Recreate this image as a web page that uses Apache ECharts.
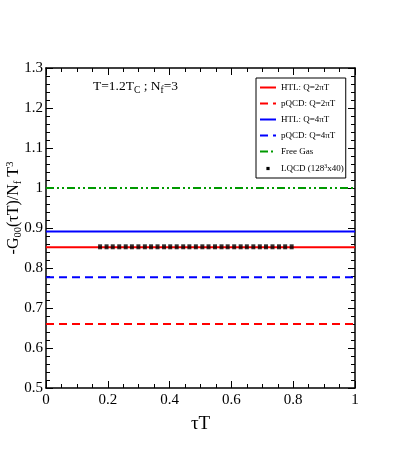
<!DOCTYPE html>
<html>
<head>
<meta charset="utf-8">
<script src="https://cdn.jsdelivr.net/npm/echarts@6/dist/echarts.min.js"></script>
<style>
  html, body { margin: 0; padding: 0; background: #fff; }
  #chart { width: 399px; height: 457px; }
</style>
</head>
<body>
<div id="chart"></div>
<script>
'use strict';

// tau*T end points for the flat curves
var tauEnds = [0, 1];
var htl2 = [0.852, 0.852];
var pqcd2 = [0.66, 0.66];
var htl4 = [0.891, 0.891];
var pqcd4 = [0.777, 0.777];
var freeGas = [1.0, 1.0];

// lattice points
var lqcdTau = [0.175, 0.196, 0.216, 0.237, 0.258, 0.278, 0.299, 0.320, 0.340, 0.361,
    0.382, 0.402, 0.423, 0.444, 0.464, 0.485, 0.506, 0.526, 0.547, 0.568,
    0.588, 0.609, 0.630, 0.650, 0.671, 0.692, 0.712, 0.733, 0.754, 0.774, 0.795];
var lqcdG = [0.853, 0.853, 0.853, 0.853, 0.853, 0.853, 0.853, 0.853, 0.853, 0.853,
    0.853, 0.853, 0.853, 0.853, 0.853, 0.853, 0.853, 0.853, 0.853, 0.853,
    0.853, 0.853, 0.853, 0.853, 0.853, 0.853, 0.853, 0.853, 0.853, 0.853, 0.853];

var legendNames = ['HTL: Q=2\u03c0T', 'pQCD: Q=2\u03c0T', 'HTL: Q=4\u03c0T', 'pQCD: Q=4\u03c0T', 'Free Gas', 'LQCD'];

var serif = 'Liberation Serif';

function pairs(xs, ys) {
    var out = [];
    for (var i = 0; i < xs.length; i++) {
        out.push([xs[i], ys[i]]);
    }
    return out;
}

function lineSeries(name, ys, color, type) {
    return {
        name: name,
        type: 'line',
        data: pairs(tauEnds, ys),
        showSymbol: false,
        symbol: 'none',
        silent: true,
        lineStyle: { color: color, width: 2, type: type },
        itemStyle: { color: color },
        z: 2
    };
}

function xAxisOf(pos) {
    return {
        type: 'value',
        position: pos,
        min: 0,
        max: 1,
        interval: 0.2,
        axisLine: { onZero: false, lineStyle: { color: '#000', width: 1.5 } },
        axisTick: { inside: true, length: 7, lineStyle: { color: '#000', width: 1 } },
        minorTick: { show: true, splitNumber: 4, length: 4, lineStyle: { color: '#000', width: 1 } },
        axisLabel: {
            show: pos === 'bottom',
            color: '#000',
            fontFamily: serif,
            fontSize: 15,
            margin: 5
        },
        splitLine: { show: false },
        name: pos === 'bottom' ? '\u03c4T' : '',
        nameLocation: 'middle',
        nameGap: 27,
        nameTextStyle: { color: '#000', fontFamily: serif, fontSize: 19 }
    };
}

function yAxisOf(pos) {
    return {
        type: 'value',
        position: pos,
        min: 0.5,
        max: 1.3,
        interval: 0.1,
        axisLine: { onZero: false, lineStyle: { color: '#000', width: 1.5 } },
        axisTick: { inside: true, length: 7, lineStyle: { color: '#000', width: 1 } },
        minorTick: { show: true, splitNumber: 5, length: 4, lineStyle: { color: '#000', width: 1 } },
        axisLabel: {
            show: pos === 'left',
            color: '#000',
            fontFamily: serif,
            fontSize: 15,
            margin: 3
        },
        splitLine: { show: false }
    };
}

var chart = echarts.init(document.getElementById('chart'), null, { renderer: 'canvas' });

var option = {
    backgroundColor: '#fff',
    animation: false,
    grid: { left: 46, right: 44, top: 68, bottom: 69 },
    xAxis: [xAxisOf('bottom'), xAxisOf('top')],
    yAxis: [yAxisOf('left'), yAxisOf('right')],
    legend: {
        orient: 'vertical',
        left: 256,
        top: 78,
        padding: [5, 2, 5, 3],
        borderColor: '#000',
        borderWidth: 1,
        backgroundColor: '#fff',
        itemWidth: 16,
        itemHeight: 8,
        itemGap: 7,
        itemTextGap: 6,
        itemStyle: { borderWidth: 0, opacity: 0 },
        selectedMode: false,
        data: legendNames.slice(0, 5).concat([{
            name: 'LQCD',
            icon: 'path://M0,0M20,10M8,3L12,3L12,7L8,7Z',
            itemStyle: { opacity: 1, color: '#000' }
        }]),
        formatter: function (name) {
            if (name === 'LQCD') {
                return '{a|LQCD (128}{s|3}{a|x40)}';
            }
            return '{a|' + name + '}';
        },
        textStyle: {
            color: '#000',
            fontFamily: serif,
            fontSize: 9,
            rich: {
                a: { fontFamily: serif, fontSize: 9, color: '#000', lineHeight: 11 },
                s: { fontFamily: serif, fontSize: 6, color: '#000', verticalAlign: 'top', lineHeight: 6 }
            }
        }
    },
    graphic: [
        {
            type: 'text',
            left: 93,
            top: 79,
            style: {
                text: '{a|T=1.2T}{b|C}{a| ; N}{b|f}{a|=3}',
                rich: {
                    a: { fontFamily: serif, fontSize: 13.5, color: '#000', verticalAlign: 'top' },
                    b: { fontFamily: serif, fontSize: 9.5, color: '#000', verticalAlign: 'bottom', padding: [6, 0, 0, 0] }
                }
            }
        },
        {
            type: 'text',
            x: 14,
            y: 208,
            rotation: Math.PI / 2,
            style: {
                text: '{a|-G}{b|00}{a|(\u03c4T)/N}{b|f}{a| T}{c|3}',
                align: 'center',
                verticalAlign: 'middle',
                rich: {
                    a: { fontFamily: serif, fontSize: 16, color: '#000' },
                    b: { fontFamily: serif, fontSize: 10.5, color: '#000', verticalAlign: 'bottom', padding: [8, 0, 0, 0] },
                    c: { fontFamily: serif, fontSize: 10.5, color: '#000', verticalAlign: 'top', padding: [0, 0, 8, 0] }
                }
            }
        }
    ],
    series: [
        lineSeries(legendNames[0], htl2, '#ff0000', 'solid'),
        lineSeries(legendNames[1], pqcd2, '#ff0000', [8, 5]),
        lineSeries(legendNames[2], htl4, '#0000ff', 'solid'),
        lineSeries(legendNames[3], pqcd4, '#0000ff', [8, 5]),
        lineSeries(legendNames[4], freeGas, '#009900', [8, 3, 2, 3, 2, 3]),
        {
            name: 'LQCD',
            type: 'scatter',
            data: pairs(lqcdTau, lqcdG),
            symbol: 'rect',
            symbolSize: [4, 5],
            itemStyle: { color: '#000' },
            silent: true,
            z: 3
        }
    ]
};

chart.setOption(option);
</script>
</body>
</html>
